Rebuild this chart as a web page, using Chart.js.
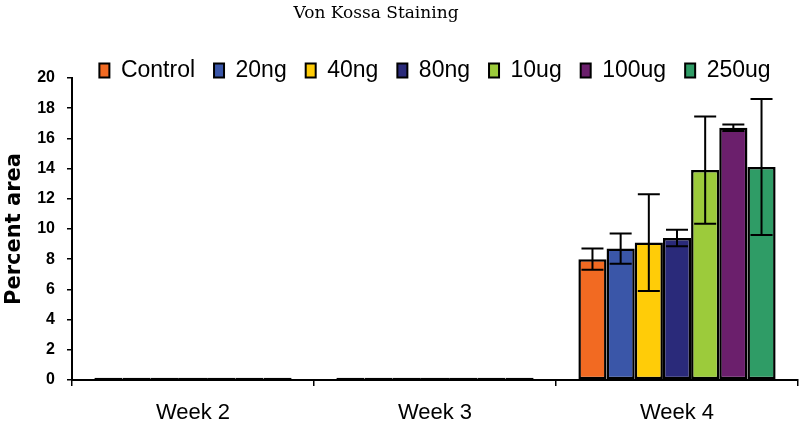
<!DOCTYPE html>
<html>
<head>
<meta charset="utf-8">
<script src="https://cdn.jsdelivr.net/npm/chart.js@4"></script>
<style>
	html, body { margin: 0; padding: 0; background: #fff; }
	#box { width: 800px; height: 430px; }
</style>
</head>
<body>
<div id="box"><canvas id="myChart"></canvas></div>
<script>
var weeks = ['Week 2', 'Week 3', 'Week 4'];
var groups = ['Control', '20ng', '40ng', '80ng', '10ug', '100ug', '250ug'];
var colors = ['#f26a22', '#3a56a8', '#ffcc08', '#2a2a7a', '#9ccb3b', '#6b1f6c', '#2f9c66'];

// percent area per group, week 2..4 (weeks 2 and 3 are ~0)
var control = [0.15, 0.15, 8.0];
var ng20 = [0.15, 0.15, 8.7];
var ng40 = [0.15, 0.15, 9.1];
var ng80 = [0.15, 0.15, 9.4];
var ug10 = [0.15, 0.15, 13.9];
var ug100 = [0.15, 0.15, 16.7];
var ug250 = [0.15, 0.15, 14.1];

// error bars (+/-)
var err_control = [0, 0, 0.7];
var err_ng20 = [0, 0, 1.0];
var err_ng40 = [0, 0, 3.2];
var err_ng80 = [0, 0, 0.55];
var err_ug10 = [0, 0, 3.55];
var err_ug100 = [0, 0, 0.22];
var err_ug250 = [0, 0, 4.5];

var yTicks = [0, 2, 4, 6, 8, 10, 12, 14, 16, 18, 20];

var values = [control, ng20, ng40, ng80, ug10, ug100, ug250];
var errors = [err_control, err_ng20, err_ng40, err_ng80, err_ug10, err_ug100, err_ug250];

var errorBars = {
	id: 'errorBars',
	afterLayout: function(chart) {
		// let legend text hang below its box, shift title a bit left like the original
		chart.legend.bottom += 14;
		chart.legend.height += 14;
		chart.titleBlock.left -= 46;
	},
	afterDatasetsDraw: function(chart) {
		let c = chart.ctx;
		let y = chart.scales.y;
		c.save();
		c.strokeStyle = '#000';
		c.lineWidth = 2;
		for (let d = 0; d < chart.data.datasets.length; d++) {
			let meta = chart.getDatasetMeta(d);
			for (let i = 0; i < meta.data.length; i++) {
				let e = errors[d][i];
				if (!e) continue;
				let v = values[d][i];
				let x = meta.data[i].x;
				let top = y.getPixelForValue(v + e);
				let bot = y.getPixelForValue(v - e);
				c.beginPath();
				c.moveTo(x, top); c.lineTo(x, bot);
				c.moveTo(x - 11, top); c.lineTo(x + 11, top);
				c.moveTo(x - 11, bot); c.lineTo(x + 11, bot);
				c.stroke();
			}
		}
		c.restore();
	}
};

var datasets = [];
for (let i = 0; i < groups.length; i++) {
	datasets.push({
		label: groups[i],
		data: values[i],
		backgroundColor: colors[i],
		borderColor: '#000',
		borderWidth: 2.5,
		borderSkipped: false,
		categoryPercentage: 0.815,
		barPercentage: 1.0
	});
}

var ctx = document.getElementById('myChart');
var chart = new Chart(ctx, {
	type: 'bar',
	data: { labels: weeks, datasets: datasets },
	plugins: [errorBars],
	options: {
		responsive: true,
		maintainAspectRatio: false,
		animation: false,
		layout: { padding: { left: 0, right: 2, top: 0, bottom: 0 } },
		plugins: {
			title: {
				display: true,
				text: 'Von Kossa Staining',
				color: '#000',
				font: { family: "'DejaVu Serif', serif", size: 17, weight: 'normal' },
				padding: { top: 3, bottom: 16.5 }
			},
			legend: {
				position: 'top',
				fullSize: false,
				maxHeight: 38,
				labels: {
					color: '#000',
					boxWidth: 10,
					boxHeight: 14,
					padding: 19,
					font: { family: "'Liberation Sans', Arial, sans-serif", size: 23 },
					generateLabels: function(ch) {
						return ch.data.datasets.map(function(ds, i) {
							return {
								text: ds.label,
								fillStyle: ds.backgroundColor,
								strokeStyle: '#000',
								lineWidth: 2,
								fontColor: '#000',
								datasetIndex: i
							};
						});
					}
				}
			},
			tooltip: { enabled: false }
		},
		scales: {
			x: {
				afterFit: function(s) { s.height = 50; },
				grid: { drawOnChartArea: false, drawTicks: true, tickLength: 6, color: '#000', lineWidth: 1.5, offset: true },
				border: { color: '#000', width: 2 },
				ticks: {
					color: '#000',
					padding: 14,
					font: { family: "'Liberation Sans', Arial, sans-serif", size: 22 }
				}
			},
			y: {
				min: 0,
				max: 20,
				afterFit: function(s) { s.width = 72; },
				afterBuildTicks: function(s) { s.ticks = yTicks.map(function(v) { return { value: v }; }); },
				grid: { drawOnChartArea: false, drawTicks: true, tickLength: 5, color: '#000', lineWidth: 1.5 },
				border: { color: '#000', width: 2 },
				ticks: {
					color: '#000',
					padding: 12,
					font: { family: "'Liberation Sans', Arial, sans-serif", size: 16, weight: 'bold' }
				},
				title: {
					display: true,
					text: 'Percent area',
					color: '#000',
					padding: { top: 2, bottom: 0 },
					font: { family: "'DejaVu Sans', sans-serif", size: 21, weight: 'bold' }
				}
			}
		}
	}
});
</script>
</body>
</html>
